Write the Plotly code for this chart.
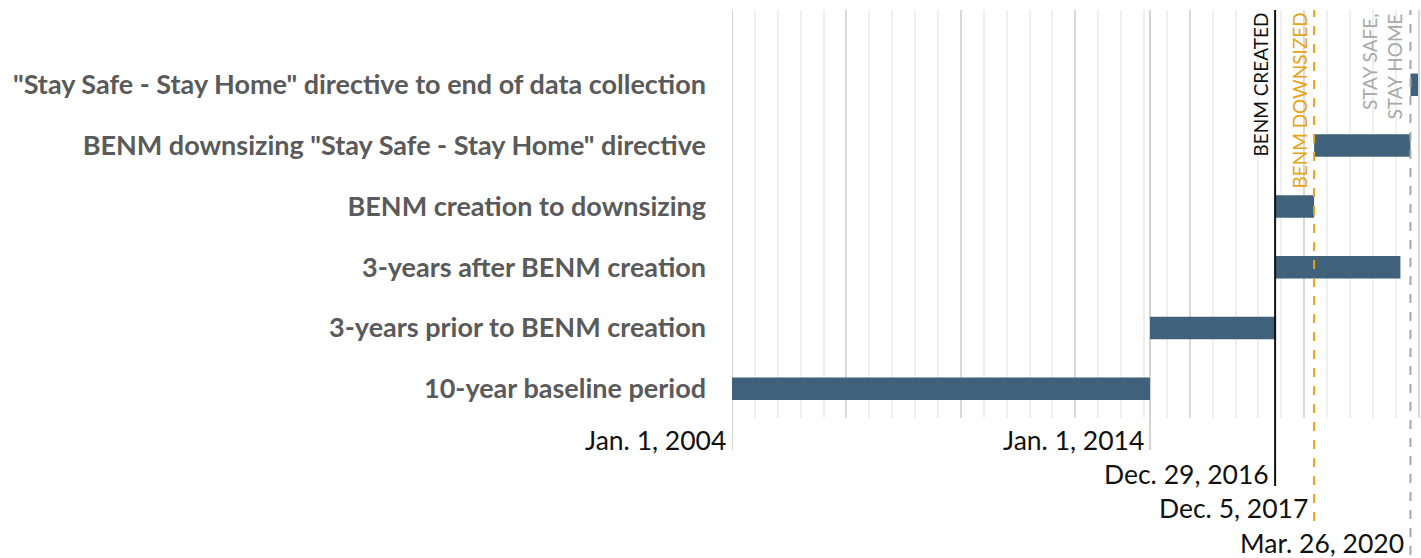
import datetime as dt
import plotly.graph_objects as go

# ---- data ----
ORIGIN = dt.date(2004, 1, 1)

periods = [
    "10-year baseline period",
    "3-years prior to BENM creation",
    "3-years after BENM creation",
    "BENM creation to downsizing",
    "BENM downsizing \"Stay Safe - Stay Home\" directive",
    "\"Stay Safe - Stay Home\" directive to end of data collection",
]
period_start = ["2004-01-01", "2014-01-01", "2016-12-29", "2016-12-29", "2017-12-05", "2020-03-26"]
period_end = ["2014-01-01", "2016-12-29", "2019-12-29", "2017-12-05", "2020-03-26", "2020-05-31"]

event_names = ["BENM CREATED", "BENM DOWNSIZED", "STAY SAFE,<br>STAY HOME"]
event_dates = ["2016-12-29", "2017-12-05", "2020-03-26"]
event_colors = ["#111111", "#E8A317", "#A8A8A8"]
event_dash = ["solid", "dash", "dash"]

date_labels = ["Jan. 1, 2004", "Jan. 1, 2014", "Dec. 29, 2016", "Dec. 5, 2017", "Mar. 26, 2020"]
date_label_dates = ["2004-01-01", "2014-01-01", "2016-12-29", "2017-12-05", "2020-03-26"]


def days(s):
    return (dt.date.fromisoformat(s) - ORIGIN).days


starts = [days(s) for s in period_start]
durations = [days(e) - days(s) for s, e in zip(period_start, period_end)]

W, H = 1421, 558
ML, MR, MT, MB = 732, 0, 10, 140
plot_h = H - MT - MB

fig = go.Figure()
fig.add_trace(go.Bar(
    y=periods, x=durations, base=starts, orientation="h",
    width=0.37, marker=dict(color="#3F617B", line=dict(width=0)),
    hoverinfo="skip",
))

shapes = []
annotations = []

line_bottoms = {"2004-01-01": 450, "2014-01-01": 450,
                "2016-12-29": 486, "2017-12-05": 521, "2020-03-26": 555}
label_centers = {"2004-01-01": 440, "2014-01-01": 440,
                 "2016-12-29": 474, "2017-12-05": 508, "2020-03-26": 543}

for d in ["2004-01-01", "2014-01-01"]:
    shapes.append(dict(type="line", xref="x", yref="paper",
                       x0=days(d), x1=days(d),
                       y0=(MT + plot_h - line_bottoms[d]) / plot_h, y1=1,
                       line=dict(color="#D4D4D4", width=2), layer="below"))

for name, d, c, dash in zip(event_names, event_dates, event_colors, event_dash):
    shapes.append(dict(type="line", xref="x", yref="paper",
                       x0=days(d), x1=days(d),
                       y0=(MT + plot_h - line_bottoms[d]) / plot_h, y1=1,
                       line=dict(color=c, width=2, dash=dash), layer="above"))
    annotations.append(dict(
        text=name, xref="x", yref="paper", x=days(d), y=1,
        xanchor="right", yanchor="top", xshift=-2, yshift=-1,
        textangle=-90, showarrow=False, align="right",
        font=dict(family="Lato", size=19, color=c)))

for lab, d in zip(date_labels, date_label_dates):
    annotations.append(dict(
        text=lab, xref="x", yref="paper", x=days(d), y=0,
        xanchor="right", yanchor="middle", xshift=-4,
        yshift=-(label_centers[d] - (MT + plot_h)),
        showarrow=False, font=dict(family="Lato", size=26.5, color="#111111")))

fig.update_layout(
    width=W, height=H,
    margin=dict(l=ML, r=MR, t=MT, b=MB, pad=0),
    paper_bgcolor="white", plot_bgcolor="white",
    showlegend=False,
    font=dict(family="Lato"),
    shapes=shapes, annotations=annotations,
    xaxis=dict(
        range=[0, 6021], tick0=0, dtick=1000, showticklabels=False,
        showgrid=True, gridcolor="#DADADA", gridwidth=2,
        minor=dict(dtick=200, tick0=0, showgrid=True, gridcolor="#EFEFEF", gridwidth=1.5),
        zeroline=False, showline=False, ticks="",
    ),
    yaxis=dict(
        type="category", range=[-0.48, 6.23],
        showgrid=False, zeroline=False, showline=False, ticks="",
        ticklabelstandoff=25,
        tickfont=dict(family="Lato", size=27, color="#5A5A5A", weight="bold"),
    ),
)

fig.write_html(
    "out.html",
    config={"displayModeBar": False},
    post_script="document.body.style.margin='0';document.body.style.overflow='hidden';",
)
